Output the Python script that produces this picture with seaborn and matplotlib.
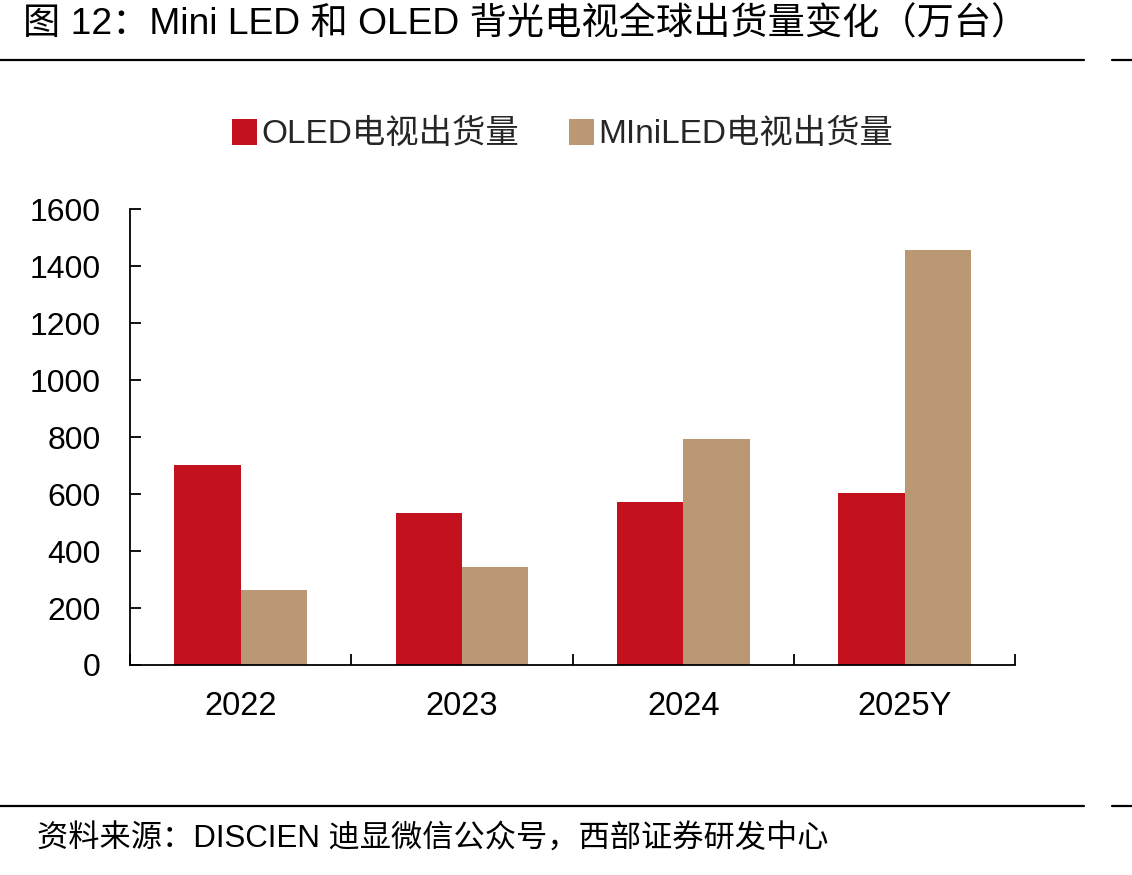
import numpy as np
import pandas as pd
import seaborn as sns
from matplotlib import pyplot as plt
from matplotlib.lines import Line2D
from matplotlib.patches import Patch

# data (万台)
years = ['2022', '2023', '2024', '2025Y']
oled = [702, 533, 572, 604]
miniled = [263, 344, 793, 1456]
series_names = ['OLED电视出货量', 'MIniLED电视出货量']
colors = ['#C3111D', '#BA9873']

df = pd.DataFrame({
    'year': years * 2,
    'value': oled + miniled,
    'series': [series_names[0]] * len(years) + [series_names[1]] * len(years),
})

sns.set_theme(style='white')
plt.rcParams['font.family'] = ['Liberation Sans', 'Noto Sans CJK SC', 'DejaVu Sans']

fig = plt.figure(figsize=(11.32, 8.75), dpi=100)
ax = fig.add_axes([0.1148, 0.24, 0.782, 0.521])

sns.barplot(data=df, x='year', y='value', hue='series', palette=colors,
            width=0.6, saturation=1, linewidth=0, ax=ax, legend=False)

ax.set_ylim(0, 1600)
ax.set_xlim(-0.5, len(years) - 0.5)
ax.set_yticks(range(0, 1601, 200))
ax.set_xlabel('')
ax.set_ylabel('')

# only left and bottom axis lines
sns.despine(ax=ax)
for s in ['left', 'bottom']:
    ax.spines[s].set_color('black')
    ax.spines[s].set_linewidth(1.3)

ax.tick_params(axis='y', direction='in', length=8, width=1.3, color='black',
               labelsize=23, pad=21, left=True)
ax.tick_params(axis='x', which='major', length=0, labelsize=23.5, pad=19)
ax.set_xticks(np.arange(-0.5, len(years), 1), minor=True)
ax.tick_params(axis='x', which='minor', direction='in', length=8, width=1.3,
               color='black', bottom=True)
for lab in ax.get_yticklabels() + ax.get_xticklabels():
    lab.set_color('black')

# legend
handles = [Patch(facecolor=c, edgecolor='none') for c in colors]
fig.legend(handles, series_names, loc='center', bbox_to_anchor=(0.497, 0.846),
           ncol=2, frameon=False, fontsize=24, handlelength=0.75, handleheight=0.8,
           handletextpad=0.12, columnspacing=1.5)

# title, rules and source
fig.text(0.02, 0.972, '图 12：Mini LED 和 OLED 背光电视全球出货量变化（万台）',
         fontsize=26.8, va='center', ha='left', color='black')
fig.text(0.033, 0.04, '资料来源：DISCIEN 迪显微信公众号，西部证券研发中心',
         fontsize=22.5, va='center', ha='left', color='black')
for y in [0.931, 0.079]:
    fig.add_artist(Line2D([0, 0.958], [y, y], color='black', lw=1.6))
    fig.add_artist(Line2D([0.982, 1.0], [y, y], color='black', lw=1.6))

plt.savefig('out.png', dpi=100)
